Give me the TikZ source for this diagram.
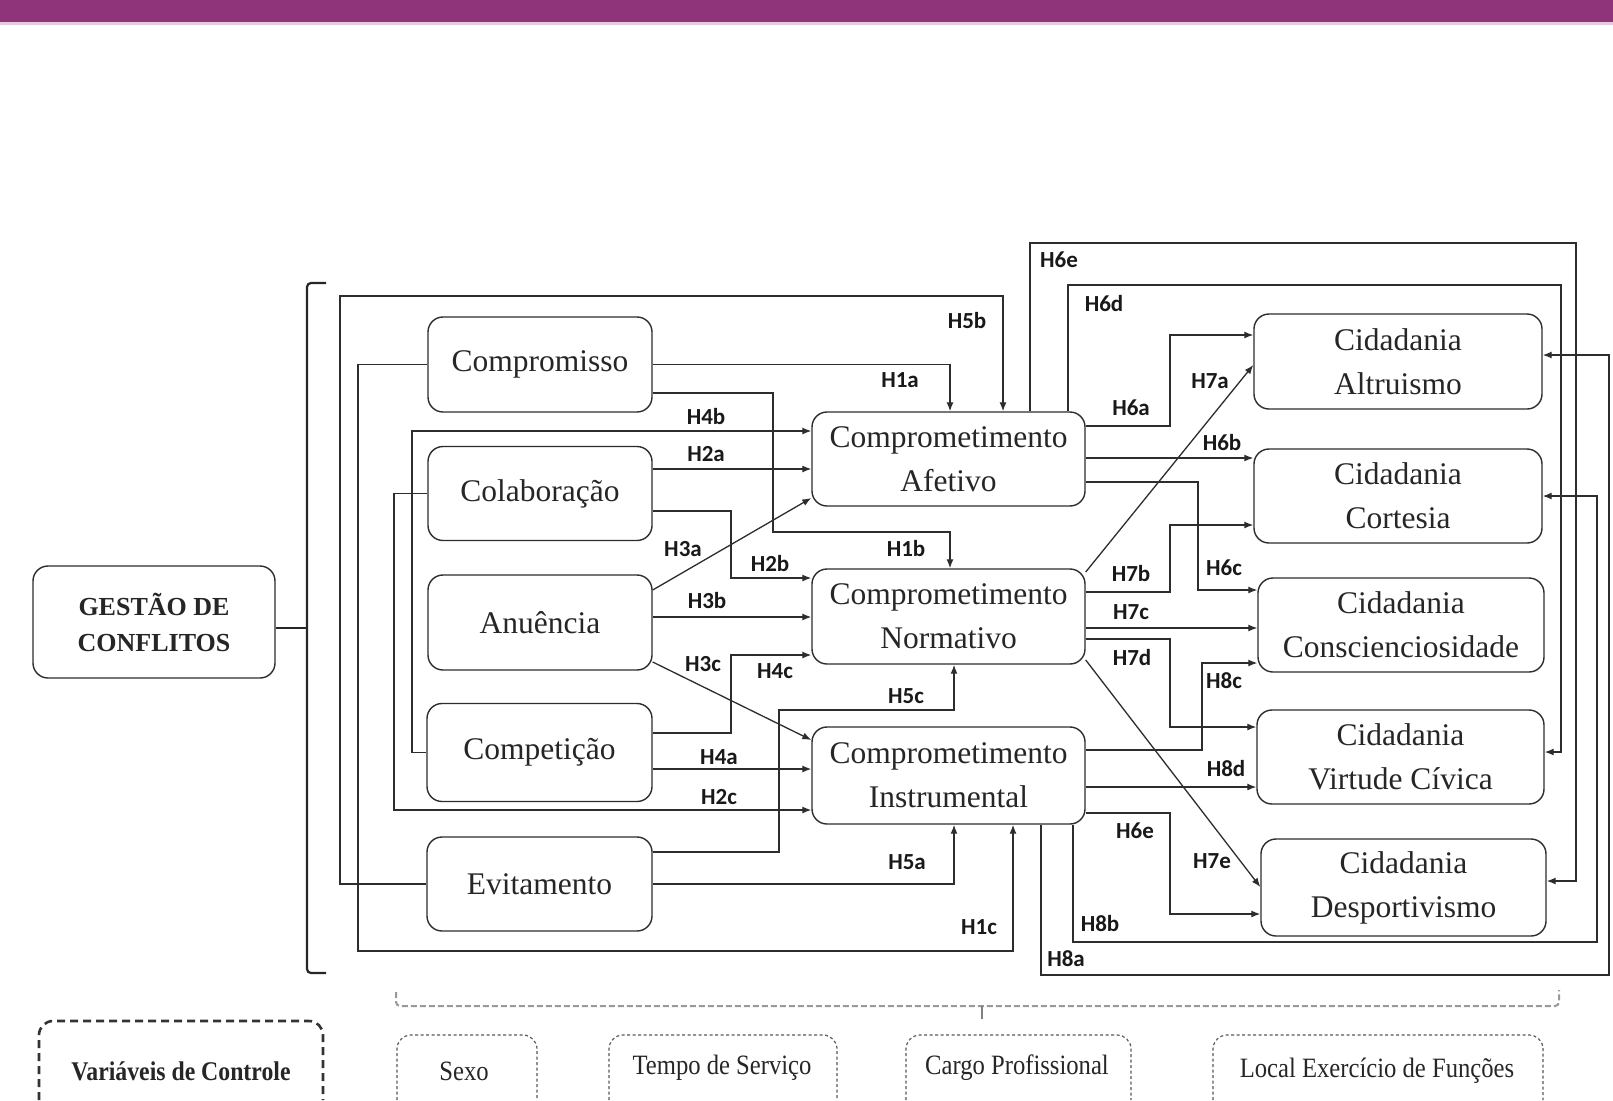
\documentclass[tikz,border=0pt]{standalone}
\usepackage{fontspec}
\setmainfont{Liberation Serif}
\newfontfamily\lblfont{Carlito}
\newfontfamily\condfont{Liberation Serif}[FakeStretch=0.88]
\usetikzlibrary{arrows.meta}
\definecolor{barpurple}{RGB}{143,51,122}
\definecolor{linecol}{RGB}{45,45,45}
\tikzset{
  box/.style={draw=linecol, line width=1.4pt, rounded corners=15pt, align=center, inner sep=0pt,
              font=\fontsize{31.5}{44}\selectfont, text=black!85},
  conn/.style={draw=linecol, line width=1.3pt, -{Latex[length=9pt,width=7pt]}},
  plainline/.style={draw=linecol, line width=1.3pt},
  hlab/.style={font=\lblfont\bfseries\fontsize{23}{23}\selectfont, inner sep=0pt, text=black!90},
  ctrl/.style={font=\condfont\fontsize{28}{30}\selectfont, inner sep=0pt, text=black!85},
  ctrlbox/.style={draw=black!65, line width=1.2pt, dash pattern=on 3pt off 2.5pt, rounded corners=14pt},
}
\begin{document}
\begin{tikzpicture}[x=1pt,y=-1pt]
\useasboundingbox (0,0) rectangle (1613,1100);
\fill[white] (0,0) rectangle (1613,1100);
% top bar
\fill[barpurple] (0,0) rectangle (1613,22);
\fill[barpurple!25] (0,22) rectangle (1613,24.5);

% left column
\node[box, minimum width=224pt, minimum height=95pt] (compromisso) at (540,364.5) {Compromisso};
\node[box, minimum width=224pt, minimum height=94pt] (colab) at (540,493.5) {Colaboração};
\node[box, minimum width=224pt, minimum height=95pt] (anuencia) at (540,622.5) {Anuência};
\node[box, minimum width=225pt, minimum height=98pt] (competicao) at (539.5,752.5) {Competição};
\node[box, minimum width=225pt, minimum height=94pt] (evitamento) at (539.5,884) {Evitamento};

% middle column
\node[box, minimum width=273pt, minimum height=94pt] (afetivo) at (948.5,459) {Comprometimento\\Afetivo};
\node[box, minimum width=273pt, minimum height=95pt] (normativo) at (948.5,616.5) {Comprometimento\\Normativo};
\node[box, minimum width=273pt, minimum height=97pt] (instrumental) at (948.5,775.5) {Comprometimento\\Instrumental};

% right column
\node[box, minimum width=288pt, minimum height=95pt] (altruismo) at (1398,361.5) {Cidadania\\Altruismo};
\node[box, minimum width=288pt, minimum height=94pt] (cortesia) at (1398,496) {Cidadania\\Cortesia};
\node[box, minimum width=286pt, minimum height=94pt] (conscien) at (1401,625) {Cidadania\\Conscienciosidade};
\node[box, minimum width=287pt, minimum height=94pt] (virtude) at (1400.5,757) {Cidadania\\Virtude Cívica};
\node[box, minimum width=285pt, minimum height=97pt] (desport) at (1403.5,887.5) {Cidadania\\Desportivismo};

% gestao
\node[box, minimum width=242pt, minimum height=112pt, font=\bfseries\fontsize{26}{36}\selectfont] (gestao) at (154,622) {GESTÃO DE\\CONFLITOS};

% brace
\coordinate (bracemid) at (307,628);
\draw[draw=black!85, line width=2.2pt, rounded corners=4pt] (326,283) -- (307,283) -- (307,973) -- (326,973);
\draw[draw=black!85, line width=2pt] (gestao.east |- bracemid) -- (bracemid);

% left-to-middle connectors
\draw[conn] (evitamento.west) -- (340,884) -- (340,296) -- (1003,296) -- (afetivo.north -| 1003,0);
\draw[conn] (compromisso.west) -- (358,364.5) -- (358,951) -- (1013,951) -- (instrumental.south -| 1013,0);
\draw[conn] (compromisso.east) -- (950,364.5) -- (afetivo.north -| 950,0);
\draw[conn] (compromisso.east |- 0,393) -- (773,393) -- (773,532) -- (950,532) -- (normativo.north -| 950,0);
\draw[conn] (competicao.west) -- (412,752.5) -- (412,431) -- (afetivo.west |- 0,431);
\draw[conn] (colab.east |- 0,469) -- (afetivo.west |- 0,469);
\draw[conn] (colab.west) -- (394,493.5) -- (394,810) -- (instrumental.west |- 0,810);
\draw[conn] (colab.east |- 0,511) -- (731,511) -- (731,578) -- (normativo.west |- 0,578);
\draw[conn] (anuencia.east |- 0,590) -- (afetivo.west |- 0,498);
\draw[conn] (anuencia.east |- 0,617) -- (normativo.west |- 0,617);
\draw[conn] (anuencia.east |- 0,662) -- (instrumental.west |- 0,740);
\draw[conn] (competicao.east |- 0,733) -- (731,733) -- (731,655) -- (normativo.west |- 0,655);
\draw[conn] (competicao.east |- 0,769) -- (instrumental.west |- 0,769);
\draw[conn] (evitamento.east |- 0,852) -- (779,852) -- (779,710) -- (954,710) -- (normativo.south -| 954,0);
\draw[conn] (evitamento.east) -- (954,884) -- (instrumental.south -| 954,0);

% middle-to-right connectors
\draw[conn] (afetivo.north -| 1030,0) -- (1030,243) -- (1576,243) -- (1576,881) -- (desport.east |- 0,881);
\draw[conn] (afetivo.north -| 1068,0) -- (1068,285) -- (1561,285) -- (1561,752) -- (virtude.east |- 0,752);
\draw[conn] (afetivo.east |- 0,426) -- (1170,426) -- (1170,335) -- (altruismo.west |- 0,335);
\draw[conn] (normativo.east |- 0,572) -- (altruismo.west |- 0,365);
\draw[conn] (afetivo.east |- 0,458) -- (cortesia.west |- 0,458);
\draw[conn] (afetivo.east |- 0,482) -- (1198,482) -- (1198,590) -- (conscien.west |- 0,590);
\draw[conn] (normativo.east |- 0,592) -- (1170,592) -- (1170,525) -- (cortesia.west |- 0,525);
\draw[conn] (normativo.east |- 0,628) -- (conscien.west |- 0,628);
\draw[conn] (normativo.east |- 0,639) -- (1170,639) -- (1170,727) -- (virtude.west |- 0,727);
\draw[conn] (instrumental.east |- 0,750) -- (1202,750) -- (1202,663) -- (conscien.west |- 0,663);
\draw[conn] (normativo.east |- 0,660) -- (desport.west |- 0,887);
\draw[conn] (instrumental.east |- 0,787) -- (virtude.west |- 0,787);
\draw[conn] (instrumental.east |- 0,813) -- (1170,813) -- (1170,914) -- (desport.west |- 0,914);
\draw[conn] (instrumental.south -| 1073,0) -- (1073,942) -- (1597,942) -- (1597,496) -- (cortesia.east |- 0,496);
\draw[conn] (instrumental.south -| 1041,0) -- (1041,975) -- (1609,975) -- (1609,355) -- (altruismo.east |- 0,355);

% labels
\node[hlab] (lH5b) at (967,321) {H5b};
\node[hlab] (lH1a) at (900,380) {H1a};
\node[hlab] (lH4b) at (706,417) {H4b};
\node[hlab] (lH2a) at (706,454) {H2a};
\node[hlab] (lH3a) at (683,549) {H3a};
\node[hlab] (lH2b) at (770,564) {H2b};
\node[hlab] (lH1b) at (906,549) {H1b};
\node[hlab] (lH3b) at (707,601) {H3b};
\node[hlab] (lH3c) at (703,664) {H3c};
\node[hlab] (lH4c) at (775,671) {H4c};
\node[hlab] (lH5c) at (906,696) {H5c};
\node[hlab] (lH4a) at (719,757) {H4a};
\node[hlab] (lH2c) at (719,797) {H2c};
\node[hlab] (lH5a) at (907,862) {H5a};
\node[hlab] (lH1c) at (979,927) {H1c};
\node[hlab] (lH6etop) at (1059,260) {H6e};
\node[hlab] (lH6d) at (1104,304) {H6d};
\node[hlab] (lH6a) at (1131,408) {H6a};
\node[hlab] (lH7a) at (1210,381) {H7a};
\node[hlab] (lH6b) at (1222,443) {H6b};
\node[hlab] (lH7b) at (1131,574) {H7b};
\node[hlab] (lH6c) at (1224,568) {H6c};
\node[hlab] (lH7c) at (1131,612) {H7c};
\node[hlab] (lH7d) at (1132,658) {H7d};
\node[hlab] (lH8c) at (1224,681) {H8c};
\node[hlab] (lH8d) at (1226,769) {H8d};
\node[hlab] (lH6ebot) at (1135,831) {H6e};
\node[hlab] (lH7e) at (1212,861) {H7e};
\node[hlab] (lH8b) at (1100,924) {H8b};
\node[hlab] (lH8a) at (1066,959) {H8a};

% control variables
\draw[draw=black!40, line width=2pt, dash pattern=on 6pt off 3pt, rounded corners=4pt]
  (396,992) -- (396,1006) -- (1559,1006) -- (1559,990);
\draw[draw=black!50, line width=1.5pt] (982,1006) -- (982,1019);

\draw[draw=black!80, line width=2.6pt, dash pattern=on 8pt off 5pt, rounded corners=14pt]
  (39,1100) -- (39,1021) -- (323,1021) -- (323,1100);
\draw[ctrlbox] (397,1100) -- (397,1035) -- (537,1035) -- (537,1100);
\draw[ctrlbox] (609,1100) -- (609,1035) -- (837,1035) -- (837,1100);
\draw[ctrlbox] (906,1100) -- (906,1035) -- (1131,1035) -- (1131,1100);
\draw[ctrlbox] (1213,1100) -- (1213,1035) -- (1543,1035) -- (1543,1100);

\node[ctrl, font=\condfont\bfseries\fontsize{27}{30}\selectfont] (varctrl) at (181,1071) {Variáveis de Controle};
\node[ctrl] (sexo) at (464,1071) {Sexo};
\node[ctrl] (tempo) at (722,1068) {Tempo de Serviço};
\node[ctrl] (cargo) at (1017,1068) {Cargo Profissional};
\node[ctrl] (local) at (1377,1071) {Local Exercício de Funções};
\end{tikzpicture}
\end{document}
